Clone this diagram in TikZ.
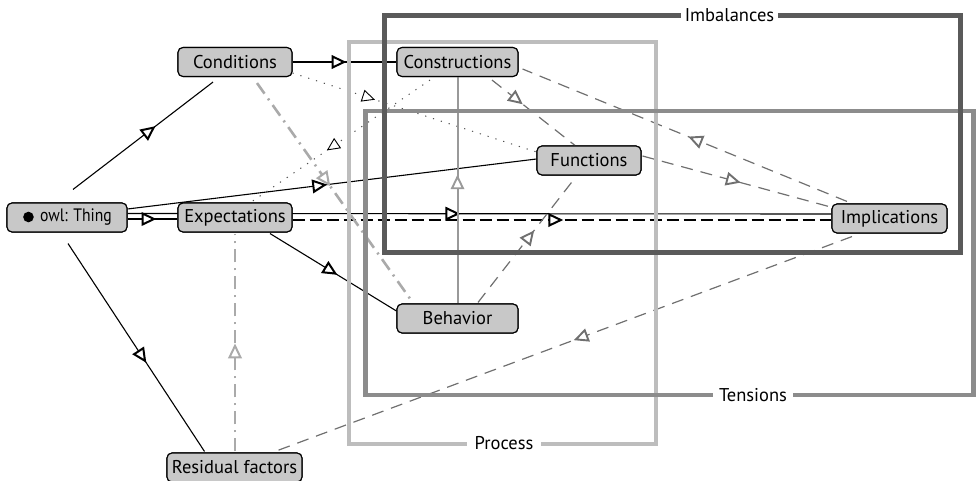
\documentclass[tikz,border=0pt]{standalone}
\usepackage{fontspec}
\setmainfont{PT Sans}
\usetikzlibrary{decorations.markings,calc}
\definecolor{nodefill}{HTML}{C8C8C8}
\definecolor{imbcol}{HTML}{5A5A5A}
\definecolor{tencol}{HTML}{8C8C8C}
\definecolor{procol}{HTML}{BDBDBD}
\definecolor{dashcol}{HTML}{707070}
\definecolor{ddcol}{HTML}{AAAAAA}
\definecolor{vcol}{HTML}{999999}
\definecolor{dotcol}{HTML}{505050}
\begin{document}
\begin{tikzpicture}[x=1pt,y=-1pt,
  box/.style={draw=black, line width=1.1pt, fill=nodefill, rounded corners=5pt,
    minimum height=29pt, inner sep=0pt, font=\fontsize{18.5}{22}\selectfont},
  owltext/.style={font=\fontsize{18}{22}\selectfont\addfontfeatures{FakeStretch=0.87}},
  grplbl/.style={fill=white, inner sep=0pt, inner xsep=5pt, minimum height=10pt,
    font=\fontsize{18.5}{22}\selectfont},
  tri/.style n args={3}{postaction={decorate}, decoration={markings,
    mark=at position #1 with {\draw[draw=#2, fill=white, line width=#3, solid, line join=miter]
      (1pt,0pt) -- (-10.5pt,5.5pt) -- (-10.5pt,-5.5pt) -- cycle;}}},
  barr/.style={tri={#1}{black}{2pt}},
  garr/.style={tri={#1}{dashcol}{1.9pt}},
  ddarr/.style={tri={#1}{ddcol}{2pt}},
  varr/.style={tri={#1}{vcol}{1.9pt}},
  dotarr/.style={tri={#1}{black}{0.9pt}},
  solidedge/.style={draw=black, line width=1.1pt},
  blackdash/.style={draw=black, line width=1.2pt, dash pattern=on 12pt off 5pt},
  graydash/.style={draw=dashcol, line width=1.2pt, dash pattern=on 12pt off 8pt},
  dashdotedge/.style={draw=ddcol, line width=2.6pt, dash pattern=on 13pt off 6pt on 2pt off 6pt},
  dotedge/.style={draw=dotcol, line width=1pt, dash pattern=on 1.2pt off 7pt},
  vedge/.style={draw=vcol, line width=2pt},
]
\useasboundingbox (0,0) rectangle (976,481);

% nodes placed first so edges can refer to them; redrawn on top later
\path
  node[box, owltext, minimum width=120pt] (owl) at (67,217.5) {\hspace*{18pt}owl: Thing}
  node[box, minimum width=114pt] (exp) at (235,217.5) {Expectations}
  node[box, minimum width=114pt] (cond) at (235,62) {Conditions}
  node[box, minimum width=121pt] (constr) at (457.5,62) {Constructions}
  node[box, minimum width=104pt] (func) at (589,160.5) {Functions}
  node[box, minimum width=115pt] (impl) at (889.5,218.5) {Implications}
  node[box, minimum width=121pt] (behav) at (457.5,318.5) {Behavior}
  node[box, minimum width=135pt] (resid) at (234.5,467.5) {Residual factors};

% edges
\draw[solidedge, barr=0.57] ($(owl.north)+(6,-13)$) -- ($(cond.south)+(-22,5)$);
\draw[solidedge, barr=0.56] ($(owl.south)+(1,11)$) -- ($(resid.north)+(-30,-1)$);
\draw[solidedge, barr=0.51] ($(owl.east)+(0,1.5)$) -- ($(exp.west)+(0,1.5)$);
\draw[solidedge, barr=0.48] ($(owl.east)+(0,-8.5)$) -- ($(func.west)+(0,-1.5)$);
\draw[solidedge, barr=0.468] ($(owl.east)+(0,-4)$) -- ($(impl.west)+(0,-4.5)$);
\draw[blackdash, barr=0.496] ($(exp.east)+(0,2.5)$) -- ($(impl.west)+(0,1.5)$);
\draw[solidedge, barr=0.51] ($(exp.south)+(35,1)$) -- ($(behav.west)+(0,-7.5)$);
\draw[solidedge, barr=0.486] (cond.east) -- (constr.west);
\draw[dotedge, dotarr=0.33] ($(cond.east)+(0,11)$) -- ($(func.west)+(0,-8.5)$);
\draw[dotedge, dotarr=0.57] ($(constr.south)+(-27.5,3)$) -- ($(exp.north)+(17,-1)$);
\draw[dashdotedge, ddarr=0.46] ($(cond.south)+(22,6)$) -- ($(behav.north)+(-45.5,-2)$);
\draw[dashdotedge, ddarr=0.48] ($(resid.north)+(0.5,-1)$) -- ($(exp.south)+(0,1)$);
\draw[vedge, varr=0.555] (behav.north) -- (constr.south);
\draw[graydash, garr=0.34] ($(constr.south)+(34.5,3)$) -- ($(func.north)+(-14,0)$);
\draw[graydash, garr=0.48] ($(impl.north)+(-42.5,-2)$) -- ($(constr.east)+(4,7)$);
\draw[graydash, garr=0.5] ($(func.east)+(1,-4.5)$) -- ($(impl.west)+(1,-11)$);
\draw[graydash, garr=0.57] ($(behav.north)+(20.5,-1)$) -- ($(func.south)+(-16,5)$);
\draw[graydash, garr=0.477] ($(impl.south)+(-37.5,3)$) -- ($(resid.north)+(40.5,-1)$);

% nodes on top
\node[box, owltext, minimum width=120pt] at (owl) {\hspace*{18pt}owl: Thing};
\fill[black] ($(owl.west)+(22,-0.5)$) circle[radius=5.3pt];
\node[box, minimum width=114pt] at (exp) {Expectations};
\node[box, minimum width=114pt] at (cond) {Conditions};
\node[box, minimum width=121pt] at (constr) {Constructions};
\node[box, minimum width=104pt] at (func) {Functions};
\node[box, minimum width=115pt] at (impl) {Implications};
\node[box, minimum width=121pt] at (behav) {Behavior};
\node[box, minimum width=135pt] at (resid) {Residual factors};

% groups
\draw[procol, line width=4pt] (349,42) rectangle (655.5,443.5);
\draw[tencol, line width=4.5pt] (365.5,111) rectangle (973.5,395);
\draw[imbcol, line width=5pt] (384.5,15.5) rectangle (960.5,252.5);
\node[grplbl, inner xsep=8pt] (lproc) at (504,443.5) {Process};
\node[grplbl, inner xsep=6pt] (lten) at (753,395) {Tensions};
\node[grplbl, inner xsep=4pt] (limb) at (729.5,15.5) {Imbalances};
\end{tikzpicture}
\end{document}
